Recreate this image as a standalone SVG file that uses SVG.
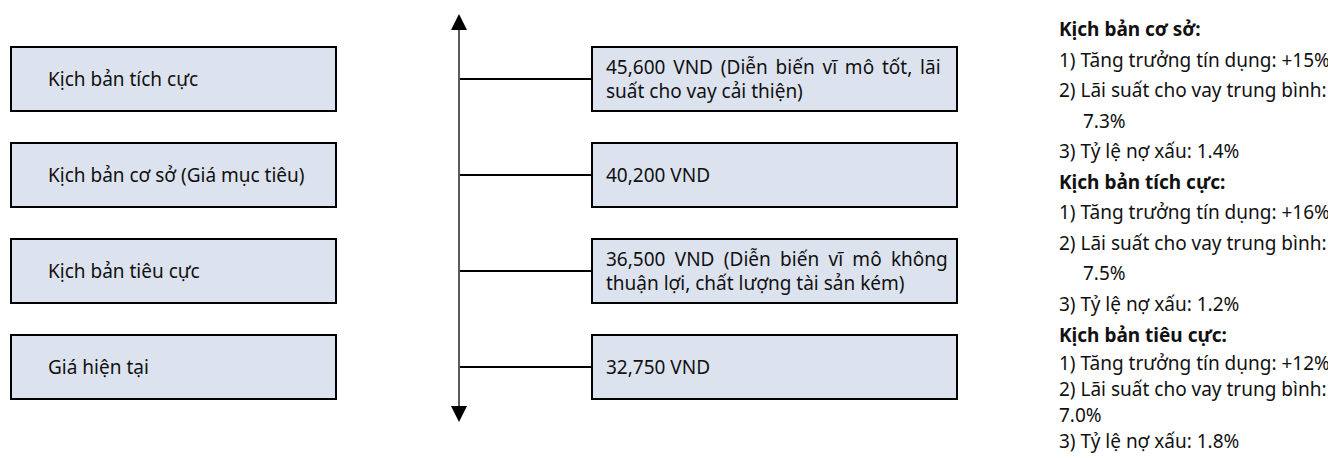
<svg xmlns="http://www.w3.org/2000/svg" width="1328" height="458" viewBox="0 0 1328 458">
<defs>
<style>
.box{fill:#dde3ee;stroke:#000;stroke-width:2}
.t{font-family:"Noto Sans","Liberation Sans",sans-serif;font-size:19px;fill:#111}
.r{font-family:"Noto Sans","Liberation Sans",sans-serif;font-size:19px;fill:#111}
.b{font-weight:bold}
.ln{stroke:#000;stroke-width:2;fill:none}
</style>
<marker id="ah" viewBox="0 0 16 16" refX="8" refY="8" markerWidth="16" markerHeight="16" markerUnits="userSpaceOnUse" orient="auto-start-reverse">
<path d="M0,0 L16,8 L0,16 z" fill="#000"/>
</marker>
</defs>
<rect width="1328" height="458" fill="#fff"/>
<g id="connectors">
<line class="ln" x1="459" y1="22" x2="459" y2="414" style="stroke-width:1.3" marker-start="url(#ah)" marker-end="url(#ah)"/>
<line class="ln" x1="460" y1="79" x2="592" y2="79"/>
<line class="ln" x1="460" y1="175" x2="592" y2="175"/>
<line class="ln" x1="460" y1="271" x2="592" y2="271"/>
<line class="ln" x1="460" y1="367" x2="592" y2="367"/>
</g>
<g id="s-positive"><rect class="box" x="11" y="47" width="325" height="64"/><text class="t" x="48" y="86">Kịch bản tích cực</text></g>
<g id="s-base"><rect class="box" x="11" y="143" width="325" height="64"/><text class="t" x="48" y="182">Kịch bản cơ sở (Giá mục tiêu)</text></g>
<g id="s-negative"><rect class="box" x="11" y="239" width="325" height="64"/><text class="t" x="48" y="278">Kịch bản tiêu cực</text></g>
<g id="s-current"><rect class="box" x="11" y="335" width="325" height="64"/><text class="t" x="48" y="374">Giá hiện tại</text></g>
<g id="p-positive"><rect class="box" x="592" y="47" width="365" height="64"/><text class="t" x="606" y="74" style="word-spacing:2.9px">45,600 VND (Diễn biến vĩ mô tốt, lãi</text><text class="t" x="606" y="98">suất cho vay cải thiện)</text></g>
<g id="p-base"><rect class="box" x="592" y="143" width="365" height="64"/><text class="t" x="606" y="182">40,200 VND</text></g>
<g id="p-negative"><rect class="box" x="592" y="239" width="365" height="64"/><text class="t" x="606" y="266" style="word-spacing:4.4px">36,500 VND (Diễn biến vĩ mô không</text><text class="t" x="606" y="290">thuận lợi, chất lượng tài sản kém)</text></g>
<g id="p-current"><rect class="box" x="592" y="335" width="365" height="64"/><text class="t" x="606" y="374">32,750 VND</text></g>
<g id="notes">
<text class="r b" x="1059" y="36">Kịch bản cơ sở:</text>
<text class="r" x="1059" y="66.5">1) Tăng trưởng tín dụng: +15%</text>
<text class="r" x="1059" y="97">2) Lãi suất cho vay trung bình:</text>
<text class="r" x="1083" y="127.5">7.3%</text>
<text class="r" x="1059" y="158">3) Tỷ lệ nợ xấu: 1.4%</text>
<text class="r b" x="1059" y="188.5">Kịch bản tích cực:</text>
<text class="r" x="1059" y="219">1) Tăng trưởng tín dụng: +16%</text>
<text class="r" x="1059" y="249.5">2) Lãi suất cho vay trung bình:</text>
<text class="r" x="1083" y="280">7.5%</text>
<text class="r" x="1059" y="311">3) Tỷ lệ nợ xấu: 1.2%</text>
<text class="r b" x="1059" y="342">Kịch bản tiêu cực:</text>
<text class="r" x="1059" y="370">1) Tăng trưởng tín dụng: +12%</text>
<text class="r" x="1059" y="396">2) Lãi suất cho vay trung bình:</text>
<text class="r" x="1059" y="422">7.0%</text>
<text class="r" x="1059" y="448">3) Tỷ lệ nợ xấu: 1.8%</text>
</g>
</svg>
